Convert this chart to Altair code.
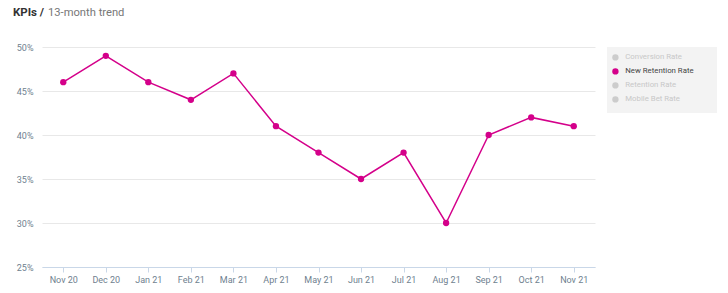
import altair as alt
import pandas as pd

months = ["Nov 20", "Dec 20", "Jan 21", "Feb 21", "Mar 21", "Apr 21", "May 21",
          "Jun 21", "Jul 21", "Aug 21", "Sep 21", "Oct 21", "Nov 21"]
new_retention = [46, 49, 46, 44, 47, 41, 38, 35, 38, 30, 40, 42, 41]
series_names = ["Conversion Rate", "New Retention Rate", "Retention Rate", "Mobile Bet Rate"]
series_colors = ["#cccccc", "#d4008a", "#cccccc", "#cccccc"]
y_ticks = [25, 30, 35, 40, 45, 50]

df = pd.DataFrame({
    "month": months,
    "value": [v / 100 for v in new_retention],
    "series": "New Retention Rate",
})

FONT = "Roboto"
AXIS_TXT = "#6f7f8f"

x = alt.X("month:N", sort=months, title=None,
          scale=alt.Scale(type="point", padding=0.5),
          axis=alt.Axis(labelAngle=0, labelFontSize=9, labelColor=AXIS_TXT, labelFont=FONT,
                        tickColor="#c9d7e8", tickSize=5, domainColor="#c9d7e8",
                        labelPadding=3, grid=False))
y = alt.Y("value:Q", title=None,
          scale=alt.Scale(domain=[0.25, 0.50], nice=False, zero=False),
          axis=alt.Axis(values=[t / 100 for t in y_ticks], format=".0%", labelFontSize=9,
                        labelColor=AXIS_TXT, labelFont=FONT, domain=False, ticks=False,
                        labelPadding=9, gridColor="#e8e8e8"))
color = alt.Color("series:N", title=None,
                  scale=alt.Scale(domain=series_names, range=series_colors),
                  legend=alt.Legend(orient="none", legendX=569.5, legendY=6.5,
                                    padding=0,
                                    symbolType="circle", symbolSize=40, symbolStrokeWidth=0,
                                    labelFont=FONT, labelFontSize=7.8, rowPadding=5,
                                    labelOffset=6,
                                    labelColor=alt.ExprRef(expr="datum.label === 'New Retention Rate' ? '#444444' : '#c8c8c8'"),
                                    labelLimit=120))

legend_bg = alt.Chart(pd.DataFrame({"k": [0]})).mark_rect(color="#f3f3f3").encode(
    x=alt.value(565), x2=alt.value(675), y=alt.value(0), y2=alt.value(66))

line = alt.Chart(df).mark_line(strokeWidth=1.5).encode(x=x, y=y, color=color)
pts = alt.Chart(df).mark_point(filled=True, size=40, opacity=1).encode(x=x, y=y, color=color)

title_df = pd.DataFrame({"t": ["KPIs /"]})
title_bold = alt.Chart(title_df).mark_text(align="left", baseline="middle", fontSize=11.5,
                                           fontWeight="bold", font=FONT, color="#333333").encode(
    text="t:N", x=alt.value(-29), y=alt.value(-34))
sub_df = pd.DataFrame({"t": ["13-month trend"]})
title_reg = alt.Chart(sub_df).mark_text(align="left", baseline="middle", fontSize=11.2,
                                        font=FONT, color="#777777").encode(
    text="t:N", x=alt.value(6), y=alt.value(-34))

chart = alt.layer(legend_bg, line, pts, title_bold, title_reg).properties(
    width=553, height=220,
    autosize=alt.AutoSizeParams(type="none"),
    padding={"left": 42, "top": 47, "right": 133, "bottom": 26},
).configure_view(stroke=None)

chart.save("out.html", embed_options={"renderer": "svg", "actions": False})
